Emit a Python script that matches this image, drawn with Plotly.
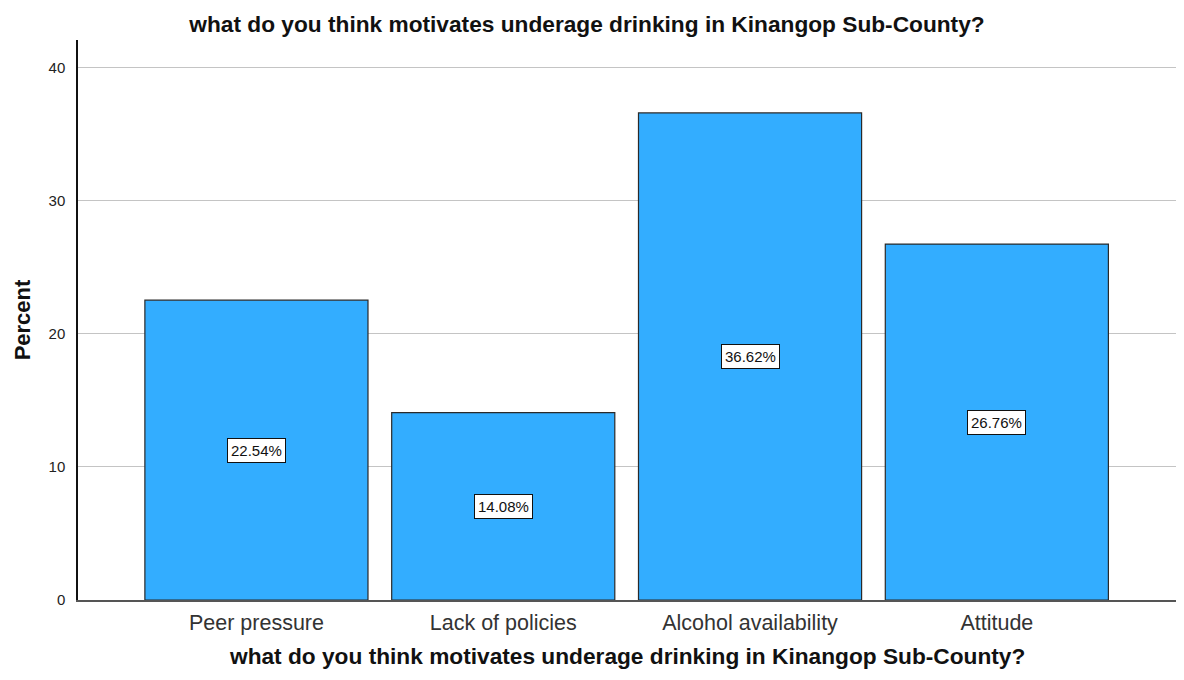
import plotly.graph_objects as go

categories = ["Peer pressure", "Lack of policies", "Alcohol availability", "Attitude"]
percents = [22.54, 14.08, 36.62, 26.76]
y_ticks = [0, 10, 20, 30, 40]

title_text = "what do you think motivates underage drinking in Kinangop Sub-County?"
FONT = "Liberation Sans, Arial, sans-serif"

fig = go.Figure()
fig.add_trace(go.Bar(
    x=list(range(len(categories))),
    y=percents,
    width=0.904,
    marker=dict(color="#33adff", line=dict(color="#2a2a2a", width=1.2)),
    hoverinfo="skip",
))

for i, v in enumerate(percents):
    fig.add_annotation(
        x=i, y=v / 2, text=f"{v:.2f}%", showarrow=False,
        font=dict(family=FONT, size=15, color="#111111"),
        bgcolor="white", bordercolor="#111111", borderwidth=1, borderpad=3,
    )

W, H = 1170, 664
T, B = 32, 72
plot_h = H - T - B

# x-axis title as paper annotation (centered under plot area)
fig.add_annotation(
    xref="paper", yref="paper", x=(627 - 78) / 1100, y=-70 / plot_h,
    xanchor="center", yanchor="bottom", showarrow=False, borderpad=0,
    text=f"<b>{title_text}</b>",
    font=dict(family=FONT, size=22.7, color="#111111"),
)

fig.update_layout(
    width=W, height=H,
    margin=dict(l=70, r=0, t=T, b=B, pad=0),
    paper_bgcolor="white", plot_bgcolor="white",
    showlegend=False,
    font=dict(family=FONT, color="#222222"),
    title=dict(text=f"<b>{title_text}</b>", x=(587 - 8) / W, xanchor="center",
               y=1 - 16 / H, yanchor="middle",
               font=dict(family=FONT, size=22.7, color="#111111")),
    xaxis=dict(
        range=[-0.723, 3.734], automargin=False,
        tickmode="array", tickvals=list(range(len(categories))), ticktext=categories,
        tickfont=dict(family=FONT, size=21.5, color="#333333"),
        showline=True, linecolor="#555555", linewidth=1.5,
        showgrid=False, zeroline=False, ticks="outside", ticklen=2, tickcolor="white",
    ),
    yaxis=dict(
        range=[0, 42.1], automargin=False,
        tickmode="array", tickvals=y_ticks,
        tickfont=dict(family=FONT, size=15, color="#222222"),
        showline=True, linecolor="#111111", linewidth=1.5,
        showgrid=True, gridcolor="#c4c4c4", gridwidth=1,
        zeroline=False, ticks="outside", ticklen=8, tickcolor="white",
        title=dict(text="<b>Percent</b>", standoff=12,
                   font=dict(family=FONT, size=22, color="#111111")),
    ),
)

fig.write_html("out.html")
